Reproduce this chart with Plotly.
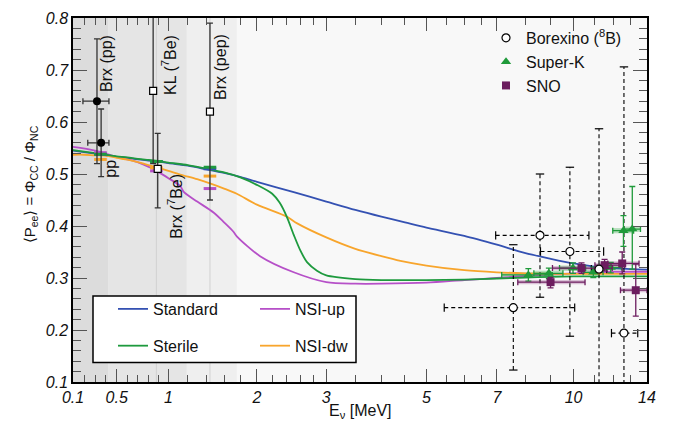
import numpy as np
import plotly.graph_objects as go

# ---------------- data ----------------
# Theory curves: neutrino energy [MeV] and P_ee
std_E = [0.1, 0.2, 0.3, 0.4, 0.5, 0.6, 0.7, 0.8, 0.9, 1.0, 1.2, 1.4, 1.6, 1.8, 2.0, 2.5, 3.0, 3.5, 4.0, 4.5,
         5, 6, 7, 8, 9, 10, 11, 12, 13, 14]
std_P = [0.545, 0.542, 0.539, 0.536, 0.533, 0.531, 0.528, 0.526, 0.524, 0.521, 0.516, 0.509, 0.502, 0.494, 0.485,
         0.465, 0.447, 0.431, 0.418, 0.407, 0.397, 0.381, 0.364, 0.348, 0.337, 0.328, 0.322, 0.319, 0.317, 0.316]

ster_E = [0.1, 0.2, 0.3, 0.4, 0.5, 0.6, 0.7, 0.8, 0.9, 1.0, 1.2, 1.4, 1.6, 1.8, 2.0, 2.2, 2.3, 2.4, 2.5, 2.6,
          2.7, 2.85, 3.0, 3.5, 4, 5, 6, 7, 8, 9, 10, 11, 12, 13, 14]
ster_P = [0.546, 0.543, 0.540, 0.537, 0.534, 0.532, 0.529, 0.527, 0.525, 0.522, 0.517, 0.510, 0.503, 0.493,
          0.479, 0.462, 0.445, 0.418, 0.383, 0.352, 0.330, 0.314, 0.305, 0.298, 0.296, 0.296, 0.297, 0.299,
          0.301, 0.302, 0.303, 0.303, 0.303, 0.303, 0.303]

nsiup_E = [0.1, 0.3, 0.52, 0.69, 0.835, 0.88, 1.0, 1.12, 1.16, 1.3, 1.48, 1.6, 1.71, 1.75, 2.04, 2.5, 3.0, 3.5,
           4.0, 5, 6, 7, 8, 9, 10, 11, 12, 13, 14]
nsiup_P = [0.552, 0.545, 0.532, 0.5235, 0.511, 0.506, 0.492, 0.477, 0.465, 0.447, 0.426, 0.407, 0.389, 0.380,
           0.342, 0.311, 0.292, 0.289, 0.289, 0.291, 0.296, 0.300, 0.304, 0.307, 0.309, 0.311, 0.312, 0.312, 0.312]

nsidw_E = [0.1, 0.2, 0.3, 0.4, 0.5, 0.6, 0.7, 0.86, 1.0, 1.12, 1.3, 1.44, 1.6, 1.75, 2.0, 2.4, 2.55, 3.0, 3.5,
           4.0, 4.4, 5, 6, 7, 8, 9, 10, 11, 12, 13, 14]
nsidw_P = [0.537, 0.537, 0.536, 0.5355, 0.531, 0.5275, 0.523, 0.514, 0.506, 0.499, 0.490, 0.482, 0.472, 0.462,
           0.441, 0.418, 0.405, 0.378, 0.356, 0.342, 0.333, 0.324, 0.315, 0.311, 0.309, 0.308, 0.308, 0.308,
           0.308, 0.308, 0.308]

# Low-energy measurements (Borexino pp, KamLAND / Borexino 7Be, Borexino pep)
pp_E = [0.318, 0.356]
pp_P = [0.64, 0.56]
pp_err = [0.12, 0.065]
pp_Elo = [0.19, 0.234]
pp_Ehi = [0.428, 0.428]

be_E = [0.848, 0.893, 1.44]
be_P = [0.66, 0.51, 0.62]
be_up = [0.20, 0.068, 0.17]
be_dn = [0.14, 0.075, 0.17]

# Model predictions at the low-energy sources (pp, 7Be, pep)
src_E = [0.35, 0.88, 1.44]
src_std = [0.538, 0.524, 0.510]
src_ster = [0.538, 0.524, 0.513]
src_up = [0.541, 0.506, 0.472]
src_dw = [0.528, 0.512, 0.496]

# Borexino 8B
b8_E = [7.56, 8.56, 9.83, 11.24, 12.6]
b8_P = [0.243, 0.382, 0.351, 0.317, 0.194]
b8_up = [0.121, 0.118, 0.162, 0.270, 0.512]
b8_dn = [0.120, 0.119, 0.163, 0.300, 0.300]
b8_Elo = [5.45, 6.96, 8.58, 10.85, 11.9]
b8_Ehi = [10.05, 10.73, 11.48, 11.65, 13.42]

# Super-K
sk_E = [8.11, 8.92, 9.97, 10.95, 11.86, 12.57, 13.09]
sk_P = [0.306, 0.309, 0.319, 0.311, 0.320, 0.391, 0.394]
sk_up = [0.012, 0.010, 0.010, 0.010, 0.010, 0.029, 0.082]
sk_dn = [0.012, 0.010, 0.010, 0.010, 0.010, 0.030, 0.077]
sk_dE = [0.95, 0.6, 0.6, 0.5, 0.6, 0.6, 0.5]

# SNO
sno_E = [8.99, 10.37, 11.53, 12.5, 13.3]
sno_P = [0.292, 0.319, 0.3247, 0.328, 0.2765]
sno_up = [0.009, 0.010, 0.011, 0.022, 0.050]
sno_dn = [0.011, 0.010, 0.011, 0.020, 0.050]
sno_dEm = [1.27, 1.30, 0.50, 0.80, 0.90]
sno_dEp = [1.55, 1.57, 1.10, 1.00, 0.70]

# Background energy windows
band_E = [0.1, 0.42, 1.19, 1.75]
line_E = [0.88, 1.44]

# Axis ticks
xmajor = [0.1, 0.5, 1, 2, 3, 5, 7, 10, 14]
xmajor_txt = ["0.1", "0.5", "1", "2", "3", "5", "7", "10", "14"]
xminor = [0.2, 0.3, 0.4, 0.6, 0.7, 0.8, 0.9, 1.2, 1.4, 1.6, 1.8, 2.2, 2.4, 2.6, 2.8, 3.5, 4, 4.5,
          5.5, 6, 6.5, 8, 9, 11, 12, 13]

# ---------------- scale ----------------
S = 2.0


def u(E):
    return np.arcsinh(np.asarray(E, dtype=float) / S)


FONT = "Liberation Sans, Arial, Helvetica, sans-serif"
C_STD = "#3451b2"
C_STER = "#1e9a3e"
C_UP = "#b650c8"
C_DW = "#f8a52c"
C_SK = "#1f9a3a"
C_SNO = "#6c1d5f"

fig = go.Figure()

# Theory curves
curves = [
    ("Standard", std_E, std_P, C_STD, "legend2", "g1"),
    ("NSI-up", nsiup_E, nsiup_P, C_UP, "legend3", "g3"),
    ("NSI-dw", nsidw_E, nsidw_P, C_DW, "legend3", "g4"),
    ("Sterile", ster_E, ster_P, C_STER, "legend2", "g2"),
]
for name, E, P, col, leg, grp in curves:
    fig.add_trace(go.Scatter(
        x=u(E), y=P, mode="lines", name=name, legend=leg, legendgroup=grp,
        line=dict(color=col, width=1.8, shape="spline", smoothing=0.8),
        legendrank=1 if name in ("Standard", "NSI-up") else 2,
    ))

# Model predictions at sources
for vals, col in [(src_std, C_STD), (src_up, C_UP), (src_dw, C_DW), (src_ster, C_STER)]:
    fig.add_trace(go.Scatter(
        x=u(src_E), y=vals, mode="markers", showlegend=False, hoverinfo="skip",
        marker=dict(symbol="line-ew", size=9, line=dict(color=col, width=3)),
    ))

# Low-energy data
fig.add_trace(go.Scatter(
    x=u(pp_E), y=pp_P, mode="markers", showlegend=False,
    marker=dict(symbol="circle", size=8, color="black"),
    error_y=dict(type="data", array=pp_err, color="#333333", thickness=1.3, width=3),
    error_x=dict(type="data", array=list(u(pp_Ehi) - u(pp_E)),
                 arrayminus=list(u(pp_E) - u(pp_Elo)), color="#333333", thickness=1.3, width=3),
))
fig.add_trace(go.Scatter(
    x=u(be_E), y=be_P, mode="markers", showlegend=False,
    marker=dict(symbol="square", size=7, color="white", line=dict(color="black", width=1.2)),
    error_y=dict(type="data", array=be_up, arrayminus=be_dn, color="#333333", thickness=1.3, width=3),
))

# Borexino 8B: dashed error bars
bx, by = [], []
for E, P, up, dn, lo, hi in zip(b8_E, b8_P, b8_up, b8_dn, b8_Elo, b8_Ehi):
    bx += [float(u(E)), float(u(E)), None, float(u(lo)), float(u(hi)), None]
    by += [P - dn, P + up, None, P, P, None]
fig.add_trace(go.Scatter(x=bx, y=by, mode="lines", showlegend=False, hoverinfo="skip",
                         line=dict(color="black", width=1.1, dash="4px,3px")))
fig.add_trace(go.Scatter(
    x=list(u(b8_E)) * 2, y=[p + e for p, e in zip(b8_P, b8_up)] + [p - e for p, e in zip(b8_P, b8_dn)],
    mode="markers", showlegend=False, hoverinfo="skip",
    marker=dict(symbol="line-ew", size=6, line=dict(color="black", width=1.2))))
fig.add_trace(go.Scatter(
    x=list(u(b8_Elo)) + list(u(b8_Ehi)), y=b8_P * 2,
    mode="markers", showlegend=False, hoverinfo="skip",
    marker=dict(symbol="line-ns", size=6, line=dict(color="black", width=1.2))))

# Super-K
fig.add_trace(go.Scatter(
    x=u(sk_E), y=sk_P, mode="markers", name="Super-K", legend="legend", legendrank=2,
    marker=dict(symbol="triangle-up", size=9, color=C_SK),
    error_y=dict(type="data", array=sk_up, arrayminus=sk_dn, color=C_SK, thickness=1.3, width=3),
    error_x=dict(type="data", array=list(u(np.add(sk_E, sk_dE)) - u(sk_E)),
                 arrayminus=list(u(sk_E) - u(np.subtract(sk_E, sk_dE))), color=C_SK, thickness=1.3, width=3),
))
# SNO
fig.add_trace(go.Scatter(
    x=u(sno_E), y=sno_P, mode="markers", name="SNO", legend="legend", legendrank=3,
    marker=dict(symbol="square", size=8, color=C_SNO),
    error_y=dict(type="data", array=sno_up, arrayminus=sno_dn, color=C_SNO, thickness=1.3, width=3),
    error_x=dict(type="data", array=list(u(np.add(sno_E, sno_dEp)) - u(sno_E)),
                 arrayminus=list(u(sno_E) - u(np.subtract(sno_E, sno_dEm))), color=C_SNO, thickness=1.3, width=3),
))
# Borexino 8B markers (drawn on top)
fig.add_trace(go.Scatter(
    x=u(b8_E), y=b8_P, mode="markers", name="Borexino (<sup>8</sup>B)", legend="legend", legendrank=1,
    marker=dict(symbol="circle", size=8, color="white", line=dict(color="black", width=1.2)),
))

# ---------------- shapes ----------------
shapes = []
band_cols = ["#dcdcdc", "#e5e5e5", "#efefef"]
for i, col in enumerate(band_cols):
    shapes.append(dict(type="rect", xref="x", yref="paper", x0=float(u(band_E[i])), x1=float(u(band_E[i + 1])),
                       y0=0, y1=1, fillcolor=col, line=dict(width=0), layer="below"))
for E in line_E:
    shapes.append(dict(type="line", xref="x", yref="paper", x0=float(u(E)), x1=float(u(E)), y0=0, y1=1,
                       line=dict(color="#d2d2d2", width=1), layer="below"))
for E, P, d in zip(sk_E, sk_P, sk_dE):
    shapes.append(dict(type="rect", xref="x", yref="y", x0=float(u(E - d)), x1=float(u(E + d)),
                       y0=P - 0.005, y1=P + 0.005, fillcolor="rgba(60,175,80,0.35)", line=dict(width=0),
                       layer="below"))
for E, P, dm, dp in zip(sno_E, sno_P, sno_dEm, sno_dEp):
    shapes.append(dict(type="rect", xref="x", yref="y", x0=float(u(E - dm)), x1=float(u(E + dp)),
                       y0=P - 0.004, y1=P + 0.004, fillcolor="rgba(150,70,140,0.3)", line=dict(width=0),
                       layer="below"))

# Legend frame for the curves
L, T, W, H = 73, 10, 574, 372


def px(x):
    return (x - L) / W


def py(y):
    return 1 - (y - T) / H


shapes.append(dict(type="rect", xref="paper", yref="paper", x0=px(93), x1=px(356), y0=py(362), y1=py(294),
                   fillcolor="white", line=dict(color="black", width=1.5), layer="above"))

# ---------------- annotations ----------------
ann = []
labels = [
    ("Brx (pp)", 107, 57),
    ("pp", 111, 164),
    ("KL (<sup>7</sup>Be)", 169, 58),
    ("Brx (<sup>7</sup>Be)", 175, 203),
    ("Brx (pep)", 221, 60),
]
for t, x, y in labels:
    ann.append(dict(text=t, x=px(x), y=py(y), xref="paper", yref="paper", showarrow=False, textangle=-90,
                    xanchor="center", yanchor="middle", font=dict(size=16, color="#111", family=FONT)))
ann.append(dict(text="E<sub>ν</sub> [MeV]", x=px(360), y=py(412), xref="paper", yref="paper", showarrow=False,
                xanchor="center", yanchor="middle", font=dict(size=16, color="#111", family=FONT)))
ann.append(dict(text="⟨P<sub>ee</sub>⟩ = Φ<sub>CC</sub> / Φ<sub>NC</sub>", x=px(30), y=py(180), xref="paper",
                yref="paper", showarrow=False, textangle=-90, xanchor="center", yanchor="middle",
                font=dict(size=15, color="#111", family=FONT)))

axis_common = dict(showline=True, linecolor="black", linewidth=1.5, mirror="allticks", ticks="inside",
                   tickcolor="#555", tickwidth=1.2, showgrid=False, zeroline=False,
                   tickfont=dict(size=16, color="#111", family=FONT, style="italic"))

fig.update_layout(
    width=676, height=430,
    margin=dict(l=L, r=676 - L - W, t=T, b=430 - T - H),
    paper_bgcolor="white", plot_bgcolor="#f8f8f8",
    font=dict(family=FONT, color="#111"),
    shapes=shapes, annotations=ann,
    xaxis=dict(range=[float(u(0.1)), float(u(14))], tickmode="array", tickvals=list(u(xmajor)),
               ticktext=xmajor_txt, ticklen=13,
               minor=dict(tickmode="array", tickvals=list(u(xminor)), ticklen=7, ticks="inside",
                          tickcolor="#555", tickwidth=1.2),
               **axis_common),
    yaxis=dict(range=[0.1, 0.8], tickmode="array", tickvals=[0.1, 0.2, 0.3, 0.4, 0.5, 0.6, 0.7, 0.8],
               ticktext=["0.1", "0.2", "0.3", "0.4", "0.5", "0.6", "0.7", "0.8"], ticklen=14,
               minor=dict(dtick=0.02, ticklen=8, ticks="inside", tickcolor="#555", tickwidth=1.2),
               **axis_common),
    legend=dict(x=px(486), y=py(13), xanchor="left", yanchor="top", bgcolor="rgba(0,0,0,0)",
                font=dict(size=16, family=FONT, color="#111"), traceorder="normal"),
    legend2=dict(x=px(113), y=py(290), xanchor="left", yanchor="top", bgcolor="rgba(0,0,0,0)",
                 font=dict(size=16, family=FONT, color="#111"), traceorder="grouped", tracegroupgap=13),
    legend3=dict(x=px(255), y=py(290), xanchor="left", yanchor="top", bgcolor="rgba(0,0,0,0)",
                 font=dict(size=16, family=FONT, color="#111"), traceorder="grouped", tracegroupgap=13),
)

fig.write_html("out.html", config={"displayModeBar": False},
               post_script="document.body.style.margin='0';document.body.style.overflow='hidden';")
